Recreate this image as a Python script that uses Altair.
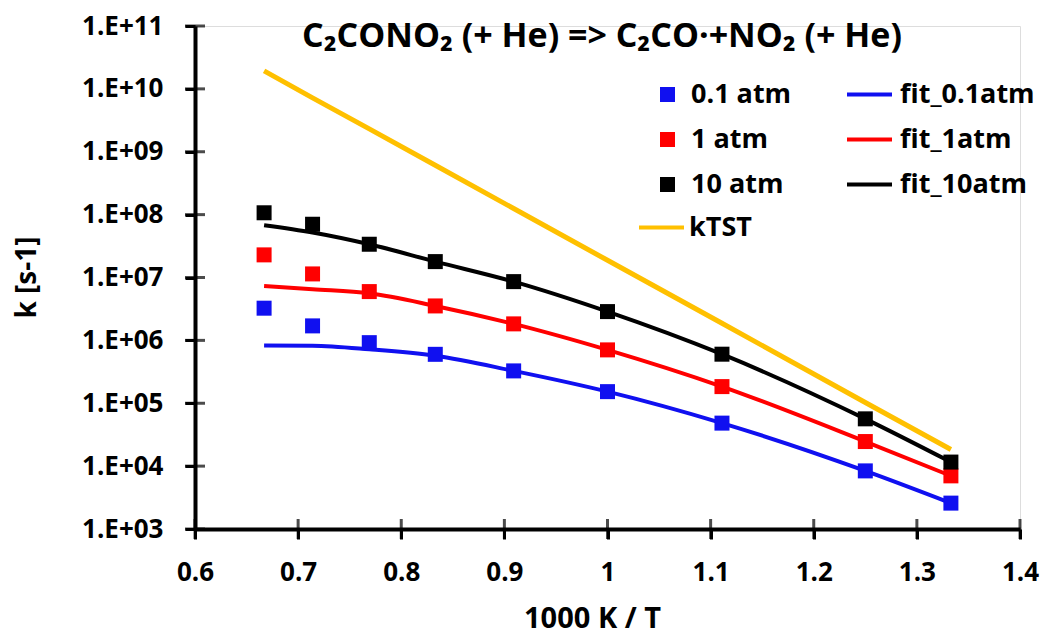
import altair as alt
import pandas as pd

FONT = "Open Sans"

TITLE = "C₂CONO₂ (+ He) => C₂CO·+NO₂ (+ He)"

# 1000 K / T
x_vals = [0.667, 0.714, 0.769, 0.833, 0.909, 1.0, 1.111, 1.25, 1.333]

# computed rate constants (squares)
k_01 = [3.25e6, 1.70e6, 9.2e5, 6.0e5, 3.27e5, 1.53e5, 4.83e4, 8.4e3, 2.58e3]
k_1 = [2.29e7, 1.14e7, 5.97e6, 3.53e6, 1.83e6, 7.06e5, 1.84e5, 2.46e4, 7.0e3]
k_10 = [1.07e8, 7.03e7, 3.38e7, 1.79e7, 8.6e6, 2.87e6, 6.03e5, 5.65e4, 1.16e4]

# fitted curves
fit_01 = [8.3e5, 8.2e5, 7.2e5, 5.7e5, 3.27e5, 1.53e5, 4.83e4, 8.4e3, 2.58e3]
fit_1 = [7.35e6, 6.5e6, 5.6e6, 3.53e6, 1.83e6, 7.06e5, 1.84e5, 2.46e4, 7.0e3]
fit_10 = [6.78e7, 5.2e7, 3.38e7, 1.79e7, 8.6e6, 2.87e6, 6.03e5, 5.65e4, 1.16e4]

# high-pressure limit kTST
k_tst = [1.93e10, 7.2e9, 2.31e9, 6.1e8, 1.25e8, 1.88e7, 1.87e6, 1.03e5, 1.84e4]

pt_names = ["0.1 atm", "1 atm", "10 atm"]
fit_names = ["fit_0.1atm", "fit_1atm", "fit_10atm"]
tst_name = ["kTST"]
pt_colors = ["#1010F0", "#FF0000", "#000000"]
fit_colors = ["#1010F0", "#FF0000", "#000000"]
tst_color = ["#FFC000"]

x_ticks = [0.6, 0.7, 0.8, 0.9, 1.0, 1.1, 1.2, 1.3, 1.4]
y_ticks = [1e3, 1e4, 1e5, 1e6, 1e7, 1e8, 1e9, 1e10, 1e11]

pts = pd.DataFrame({
    "x": x_vals * 3,
    "k": k_01 + k_1 + k_10,
    "series": [pt_names[0]] * 9 + [pt_names[1]] * 9 + [pt_names[2]] * 9,
})
fits = pd.DataFrame({
    "x": x_vals * 3,
    "k": fit_01 + fit_1 + fit_10,
    "series": [fit_names[0]] * 9 + [fit_names[1]] * 9 + [fit_names[2]] * 9,
})
tst = pd.DataFrame({"x": x_vals, "k": k_tst, "series": tst_name * 9})
xt = pd.DataFrame({"x": x_ticks, "k": [y_ticks[0]] * len(x_ticks)})
yt = pd.DataFrame({"x": [x_ticks[0]] * len(y_ticks), "k": y_ticks})
title_df = pd.DataFrame({"t": [TITLE]})

xscale = alt.Scale(domain=[x_ticks[0], x_ticks[-1]], nice=False, zero=False)
yscale = alt.Scale(type="log", domain=[y_ticks[0], y_ticks[-1]], nice=False)

xaxis = alt.Axis(
    values=x_ticks, format="~g", title="1000 K / T", grid=False,
    domainColor="black", domainWidth=4, tickColor="black", tickWidth=3, tickSize=10,
    labelFont=FONT, labelFontWeight="bold", labelFontSize=26, labelColor="black",
    labelPadding=20, labelFlush=False,
    titleFont=FONT, titleFontWeight="bold", titleFontSize=29, titleColor="black",
    titleX=397, titleY=98, titleBaseline="alphabetic", titleAnchor="middle", titleAlign="center",
)
yaxis = alt.Axis(
    values=y_ticks, grid=False,
    labelExpr="'1.E+' + (round(log(datum.value)/LN10) < 10 ? '0' : '') + round(log(datum.value)/LN10)",
    title="k [s-1]",
    domainColor="black", domainWidth=4, tickColor="black", tickWidth=3, tickSize=10,
    labelFont=FONT, labelFontWeight="bold", labelFontSize=26, labelColor="black",
    labelPadding=22, labelFlush=False,
    titleFont=FONT, titleFontWeight="bold", titleFontSize=28, titleColor="black",
    titleX=-168, titleY=251, titleBaseline="middle", titleAngle=-90, titleAlign="center",
)

X = alt.X("x:Q", scale=xscale, axis=xaxis)
Y = alt.Y("k:Q", scale=yscale, axis=yaxis)


def legend(x, y, sym, size, offset):
    return alt.Legend(
        title=None, orient="none", legendX=x, legendY=y, padding=0,
        symbolType=sym, symbolSize=size, symbolStrokeWidth=4,
        labelFont=FONT, labelFontWeight="bold", labelFontSize=27, labelColor="black",
        labelOffset=offset, rowPadding=17, symbolOpacity=1,
    )


LINE_SYM = "M-3,0H3"

tst_layer = alt.Chart(tst).mark_line(strokeWidth=5, clip=False).encode(
    x=X, y=Y,
    color=alt.Color("series:N", scale=alt.Scale(domain=tst_name, range=tst_color),
                    legend=legend(453, 188, LINE_SYM, 225, 14)),
)

fit_layer = alt.Chart(fits).mark_line(strokeWidth=4, interpolate="monotone").encode(
    x=X, y=Y,
    color=alt.Color("series:N", scale=alt.Scale(domain=fit_names, range=fit_colors),
                    legend=legend(661, 55, LINE_SYM, 225, 17)),
    detail="series:N",
)

pt_layer = alt.Chart(pts).mark_square(size=225, opacity=1, filled=True).encode(
    x=X, y=Y,
    color=alt.Color("series:N", scale=alt.Scale(domain=pt_names, range=pt_colors),
                    legend=legend(459, 55, "square", 225, 10)),
)

xtick_layer = alt.Chart(xt).mark_tick(orient="vertical", size=20, thickness=3, color="black", clip=False).encode(
    x=X, y=Y
)
ytick_layer = alt.Chart(yt).mark_tick(orient="horizontal", size=20, thickness=3, color="black", clip=False).encode(
    x=X, y=Y
)

title_layer = alt.Chart(title_df).mark_text(
    font=FONT, fontSize=34, fontWeight="bold", color="black",
    align="center", baseline="alphabetic",
).encode(
    text="t:N", x=alt.value(407), y=alt.value(21)
)

chart = alt.layer(
    tst_layer, fit_layer, pt_layer, xtick_layer, ytick_layer, title_layer
).resolve_scale(
    color="independent"
).properties(
    width=825, height=503,
    autosize=alt.AutoSizeParams(type="none"),
    padding={"left": 195, "top": 26, "right": 25, "bottom": 108},
).configure_view(stroke=None).configure(background="white")

chart.save("out.html", embed_options={"renderer": "svg", "actions": False})
